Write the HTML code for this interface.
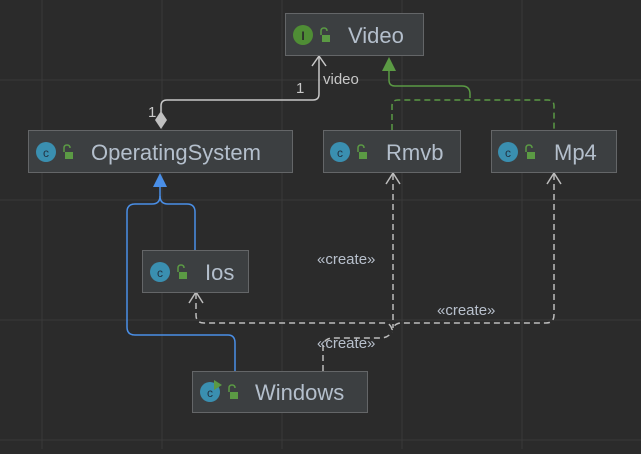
<!DOCTYPE html>
<html><head><style>
body{margin:0;width:641px;height:449px;background:#2b2b2b;overflow:hidden;font-family:"Liberation Sans","DejaVu Sans",sans-serif}
</style></head><body>
<svg width="641" height="449" viewBox="0 0 641 449" xmlns="http://www.w3.org/2000/svg">
<g stroke="#393939" stroke-width="1">
<line x1="42" y1="0" x2="42" y2="449"/><line x1="162" y1="0" x2="162" y2="449"/><line x1="282" y1="0" x2="282" y2="449"/><line x1="402" y1="0" x2="402" y2="449"/><line x1="522" y1="0" x2="522" y2="449"/>
<line x1="0" y1="80" x2="641" y2="80"/><line x1="0" y1="200" x2="641" y2="200"/><line x1="0" y1="320" x2="641" y2="320"/><line x1="0" y1="440" x2="641" y2="440"/>
</g>
<path d="M319 57 V94 Q319 100 313 100 H167 Q161 100 161 106 V112" fill="none" stroke="#c8c8c8" stroke-width="1.5"/>
<path d="M312 66 L319 56 L326 66" fill="none" stroke="#c8c8c8" stroke-width="1.5"/>
<polygon points="161,111 167,120 161,129 155,120" fill="#c0c0c0"/>
<text x="296" y="93" fill="#c8c8c8" font-size="15">1</text>
<text x="323" y="84" fill="#c8c8c8" font-size="15">video</text>
<text x="148" y="117" fill="#c8c8c8" font-size="15">1</text>
<polygon points="389,57 382,71 396,71" fill="#5b9a44"/>
<path d="M389 71 V80 Q389 86 395 86 H462 Q470 86 470 94 V98" fill="none" stroke="#5b9a44" stroke-width="1.5"/>
<path d="M392 130 V106 Q392 100 398 100 H548 Q554 100 554 106 V130" fill="none" stroke="#5b9a44" stroke-width="1.5" stroke-dasharray="6,4"/>
<polygon points="160,173 153,187 167,187" fill="#4a8fe7"/>
<path d="M160 187 V196 Q160 204 152 204 H135 Q127 204 127 212 V327 Q127 335 135 335 H228 Q235 335 235 343 V371" fill="none" stroke="#4a8fe7" stroke-width="1.5"/>
<path d="M160 196 Q160 204 168 204 H187 Q195 204 195 212 V250" fill="none" stroke="#4a8fe7" stroke-width="1.5"/>
<g fill="none" stroke="#bdbdbd" stroke-width="1.5" stroke-dasharray="6,4">
<path d="M393 174 V328"/>
<path d="M554 174 V315 Q554 323 546 323 H400 Q394 324 392 330"/>
<path d="M196 293 V315 Q196 323 204 323 H386 Q391 324 392 330"/>
<path d="M323 371 V346 Q324 338 334 338 H380 Q388 338 392 332"/>
</g>
<g fill="none" stroke="#bdbdbd" stroke-width="1.5">
<path d="M386 184 L393 173 L400 184"/><path d="M547 184 L554 173 L561 184"/><path d="M189 303 L196 292 L203 303"/>
</g>
<text x="317" y="264" fill="#b8c0cc" font-size="15">«create»</text>
<text x="437" y="315" fill="#b8c0cc" font-size="15">«create»</text>
<text x="317" y="348" fill="#b8c0cc" font-size="15">«create»</text>
<g fill="#3c3f41" stroke="#646668" stroke-width="1">
<rect x="285.5" y="13.5" width="138" height="42"/>
<rect x="28.5" y="130.5" width="264" height="42"/>
<rect x="323.5" y="130.5" width="137" height="42"/>
<rect x="491.5" y="130.5" width="125" height="42"/>
<rect x="142.5" y="250.5" width="106" height="42"/>
<rect x="192.5" y="371.5" width="175" height="41"/>
</g>
<g font-size="22" fill="#b4bfcc">
<text x="348" y="43">Video</text>
<text x="91" y="160">OperatingSystem</text>
<text x="386" y="160">Rmvb</text>
<text x="554" y="160">Mp4</text>
<text x="205" y="280">Ios</text>
<text x="255" y="400">Windows</text>
</g>
<g>
<circle cx="303" cy="35" r="10" fill="#4f8d35"/><text x="303" y="40" fill="#2b2b2b" font-size="12" text-anchor="middle" font-weight="bold">I</text>
<circle cx="46" cy="152" r="10" fill="#3a8fb0"/><text x="46" y="157" fill="#234" font-size="12" text-anchor="middle">c</text>
<circle cx="340" cy="152" r="10" fill="#3a8fb0"/><text x="340" y="157" fill="#234" font-size="12" text-anchor="middle">c</text>
<circle cx="508" cy="152" r="10" fill="#3a8fb0"/><text x="508" y="157" fill="#234" font-size="12" text-anchor="middle">c</text>
<circle cx="160" cy="272" r="10" fill="#3a8fb0"/><text x="160" y="277" fill="#234" font-size="12" text-anchor="middle">c</text>
<circle cx="210" cy="392" r="10" fill="#3a8fb0"/><text x="210" y="397" fill="#234" font-size="12" text-anchor="middle">c</text>
<polygon points="214,380 222,385 214,390" fill="#5b9a44"/>
</g>
<g fill="#5b9a44">
<rect x="322" y="35" width="8" height="7"/><rect x="65" y="152" width="8" height="7"/><rect x="359" y="152" width="8" height="7"/><rect x="527" y="152" width="8" height="7"/><rect x="179" y="272" width="8" height="7"/><rect x="230" y="392" width="8" height="7"/>
</g>
<g fill="none" stroke="#5b9a44" stroke-width="1.5">
<path d="M321 35 V31 Q321 28 324 28 Q327 28 327 31"/><path d="M64 152 V148 Q64 145 67 145 Q70 145 70 148"/><path d="M358 152 V148 Q358 145 361 145 Q364 145 364 148"/><path d="M526 152 V148 Q526 145 529 145 Q532 145 532 148"/><path d="M178 272 V268 Q178 265 181 265 Q184 265 184 268"/><path d="M229 392 V388 Q229 385 232 385 Q235 385 235 388"/>
</g>
</svg>
</body></html>
